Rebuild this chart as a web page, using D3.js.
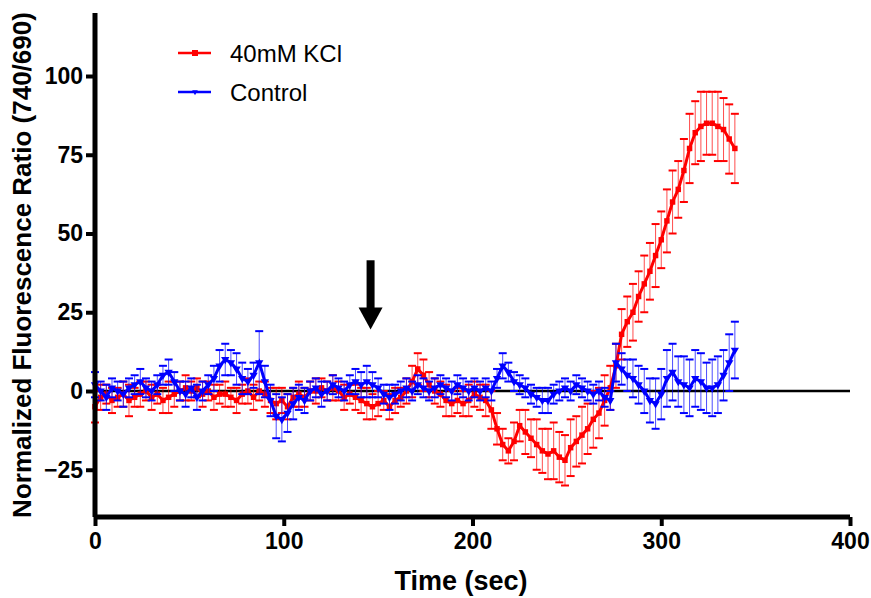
<!DOCTYPE html>
<html>
<head>
<meta charset="utf-8">
<script src="https://cdn.jsdelivr.net/npm/d3@7"></script>
<style>
  body { margin: 0; background: #fff; }
  text { font-family: "Liberation Sans", Arial, sans-serif; }
</style>
</head>
<body>
<div id="chart"></div>
<script>
// sample times (sec), one point every 3 s
const times = d3.range(0, 340, 3);

const kclMean = [-5, -2, -1, -3, -2, -1, -3, -2, -1, 0, -2, -1, -3, -2, -1, 0, 1, 0, 1, -1,
    0, -2, -1, -1, -2, -3, -1, 0, -2, 0, -1, -3, -4, -3, -5, -2, -1, -2, 0, 0,
    1, 0, 1, 0, -2, -1, -2, -3, -4, -5, -4, -3, -5, -3, -2, 0, 3, 7, 5, 2,
    0, -1, -3, -4, -3, -4, -3, -1, -2, -3, -6, -12, -17, -19, -16, -11, -13, -15, -17, -19,
    -20, -19, -21, -22, -18, -16, -14, -12, -9, -7, -3, 1, 8, 18, 22, 25, 30, 34, 38, 43,
    48, 54, 60, 64, 70, 77, 82, 84, 85, 85, 84, 83, 80, 77];
const kclErr = [5, 4, 3, 4, 3, 4, 5, 3, 4, 3, 4, 3, 4, 5, 4, 3, 4, 3, 3, 4,
    3, 4, 3, 4, 3, 4, 3, 4, 4, 3, 4, 4, 5, 4, 4, 3, 4, 3, 3, 4,
    3, 3, 4, 3, 4, 3, 4, 4, 5, 4, 4, 3, 4, 4, 3, 4, 5, 5, 5, 4,
    4, 4, 5, 4, 4, 4, 5, 4, 4, 5, 6, 5, 5, 4, 6, 5, 7, 6, 8, 7,
    8, 9, 8, 8, 9, 8, 9, 8, 9, 8, 8, 7, 7, 8, 8, 9, 8, 9, 9, 10,
    9, 10, 10, 9, 10, 11, 10, 11, 10, 10, 11, 10, 11, 11];

const ctrlMean = [2, 0, -2, 1, 0, -1, 1, 2, 3, 1, 0, 2, 5, 6, 3, 0, -1, 1, -2, 0,
    2, 4, 8, 10, 9, 7, 4, 3, 5, 9, 3, -3, -8, -9, -7, -4, -2, -3, 0, 1,
    -1, 0, 2, 1, 0, 2, 3, 2, 3, 2, 1, -1, -2, -1, 0, 1, 0, 2, 1, 0,
    1, 2, 1, 0, 2, 1, 0, 1, 0, 1, 0, 4, 8, 6, 3, 2, 1, -1, -2, -3,
    -3, -1, 0, 1, 0, 2, 1, 0, -1, 0, -2, -3, 9, 7, 5, 4, 2, 0, -3, -4,
    -1, 4, 6, 3, 2, 1, 4, 3, 1, 1, 2, 5, 9, 13];
const ctrlErr = [4, 3, 4, 3, 3, 4, 3, 3, 4, 3, 3, 3, 3, 4, 3, 3, 4, 3, 4, 3,
    3, 4, 5, 5, 4, 5, 5, 4, 4, 10, 5, 5, 7, 7, 6, 5, 4, 4, 3, 3,
    4, 3, 3, 3, 3, 3, 4, 4, 5, 4, 3, 3, 4, 3, 3, 3, 3, 3, 3, 3,
    3, 3, 3, 3, 3, 3, 3, 3, 3, 3, 3, 3, 4, 3, 3, 3, 3, 3, 3, 4,
    4, 3, 3, 3, 3, 3, 3, 3, 3, 3, 3, 3, 6, 5, 5, 6, 6, 7, 7, 8,
    8, 9, 9, 8, 9, 9, 9, 9, 8, 9, 9, 8, 9, 9];

const xTicks = [0, 100, 200, 300, 400];
const yTicks = [-25, 0, 25, 50, 75, 100];
const seriesNames = ["40mM KCl", "Control"];
const seriesColors = ["#ff0000", "#0000ff"];
// arrow marking the stimulus (time, shaft top, head top, tip)
const arrowAt = [146, 41.5, 26.5, 19.5];

const width = 871, height = 598;
const margin = {top: 13, right: 21, bottom: 81, left: 95};

const x = d3.scaleLinear().domain([0, 400]).range([margin.left, width - margin.right]);
const y = d3.scaleLinear().domain([-40, 120]).range([height - margin.bottom, margin.top]);

const svg = d3.select("#chart").append("svg")
    .attr("width", width)
    .attr("height", height);

const series = [
    {name: seriesNames[0], color: seriesColors[0], mean: kclMean, err: kclErr, shape: d3.symbolSquare},
    {name: seriesNames[1], color: seriesColors[1], mean: ctrlMean, err: ctrlErr, shape: d3.symbolTriangle}
];

// zero baseline
svg.append("line")
    .attr("x1", x(0)).attr("x2", x(400))
    .attr("y1", y(0)).attr("y2", y(0))
    .attr("stroke", "#000")
    .attr("stroke-width", 2.5);

const line = d3.line()
    .x(d => x(d.t))
    .y(d => y(d.v));

series.forEach(function (s) {
    const pts = times.map((t, i) => ({t: t, v: s.mean[i], e: s.err[i]}));
    const g = svg.append("g");

    const bars = g.selectAll(".err")
        .data(pts)
        .enter().append("g");
    bars.append("line")
        .attr("x1", d => x(d.t)).attr("x2", d => x(d.t))
        .attr("y1", d => y(d.v - d.e)).attr("y2", d => y(d.v + d.e))
        .attr("stroke", s.color)
        .attr("stroke-opacity", 0.7)
        .attr("stroke-width", 1);
    [1, -1].forEach(function (sign) {
        bars.append("line")
            .attr("x1", d => x(d.t) - 4).attr("x2", d => x(d.t) + 4)
            .attr("y1", d => y(d.v + sign * d.e)).attr("y2", d => y(d.v + sign * d.e))
            .attr("stroke", s.color)
            .attr("stroke-width", 2);
    });

    g.append("path")
        .datum(pts)
        .attr("fill", "none")
        .attr("stroke", s.color)
        .attr("stroke-width", 3)
        .attr("d", line);

    g.selectAll(".pt")
        .data(pts)
        .enter().append("path")
        .attr("transform", d => "translate(" + x(d.t) + "," + y(d.v) + ")" + (s.shape === d3.symbolTriangle ? " rotate(180)" : ""))
        .attr("d", d3.symbol().type(s.shape).size(30))
        .attr("fill", s.color);
});

// axes
const xAxis = d3.axisBottom(x).tickValues(xTicks).tickSize(9).tickPadding(7);
const yAxis = d3.axisLeft(y).tickValues(yTicks).tickSize(9).tickPadding(3);

const gx = svg.append("g")
    .attr("transform", "translate(0," + y(-40) + ")")
    .call(xAxis);
const gy = svg.append("g")
    .attr("transform", "translate(" + x(0) + ",0)")
    .call(yAxis);

[gx, gy].forEach(function (g) {
    g.select(".domain").attr("stroke-width", 5).attr("stroke", "#000");
    g.selectAll(".tick line").attr("stroke-width", 4).attr("stroke", "#000");
    g.selectAll(".tick text")
        .attr("fill", "#000")
        .style("font-size", "23px")
        .style("font-weight", "bold");
});
gx.select(".domain").attr("d", "M" + x(0) + ",0H" + x(400));
gy.select(".domain").attr("d", "M0," + y(120) + "V" + y(-40));

svg.append("text")
    .attr("x", 461)
    .attr("y", 590)
    .attr("text-anchor", "middle")
    .style("font-size", "27px")
    .style("font-weight", "bold")
    .text("Time (sec)");

svg.append("text")
    .attr("transform", "translate(31," + ((y(120) + y(-40)) / 2) + ") rotate(-90)")
    .attr("text-anchor", "middle")
    .style("font-size", "26px")
    .style("font-weight", "bold")
    .text("Normalized Fluorescence Ratio (740/690)");

// stimulus arrow
const ax = x(arrowAt[0]);
svg.append("rect")
    .attr("x", ax - 4).attr("width", 8)
    .attr("y", y(arrowAt[1])).attr("height", y(arrowAt[2]) - y(arrowAt[1]) + 1);
svg.append("path")
    .attr("d", "M" + (ax - 12) + "," + y(arrowAt[2]) + "L" + (ax + 12) + "," + y(arrowAt[2]) + "L" + ax + "," + y(arrowAt[3]) + "Z")
    .attr("fill", "#000");

// legend
const legend = svg.append("g");
series.forEach(function (s, i) {
    const ly = 53 + i * 39;
    legend.append("line")
        .attr("x1", 178).attr("x2", 211)
        .attr("y1", ly).attr("y2", ly)
        .attr("stroke", s.color)
        .attr("stroke-width", 2.5);
    legend.append("path")
        .attr("transform", "translate(195," + ly + ")" + (s.shape === d3.symbolTriangle ? " rotate(180)" : ""))
        .attr("d", d3.symbol().type(s.shape).size(s.shape === d3.symbolTriangle ? 14 : 36))
        .attr("fill", s.color);
    legend.append("text")
        .attr("x", 230)
        .attr("y", ly + 9)
        .style("font-size", "24px")
        .text(s.name);
});
</script>
</body>
</html>
